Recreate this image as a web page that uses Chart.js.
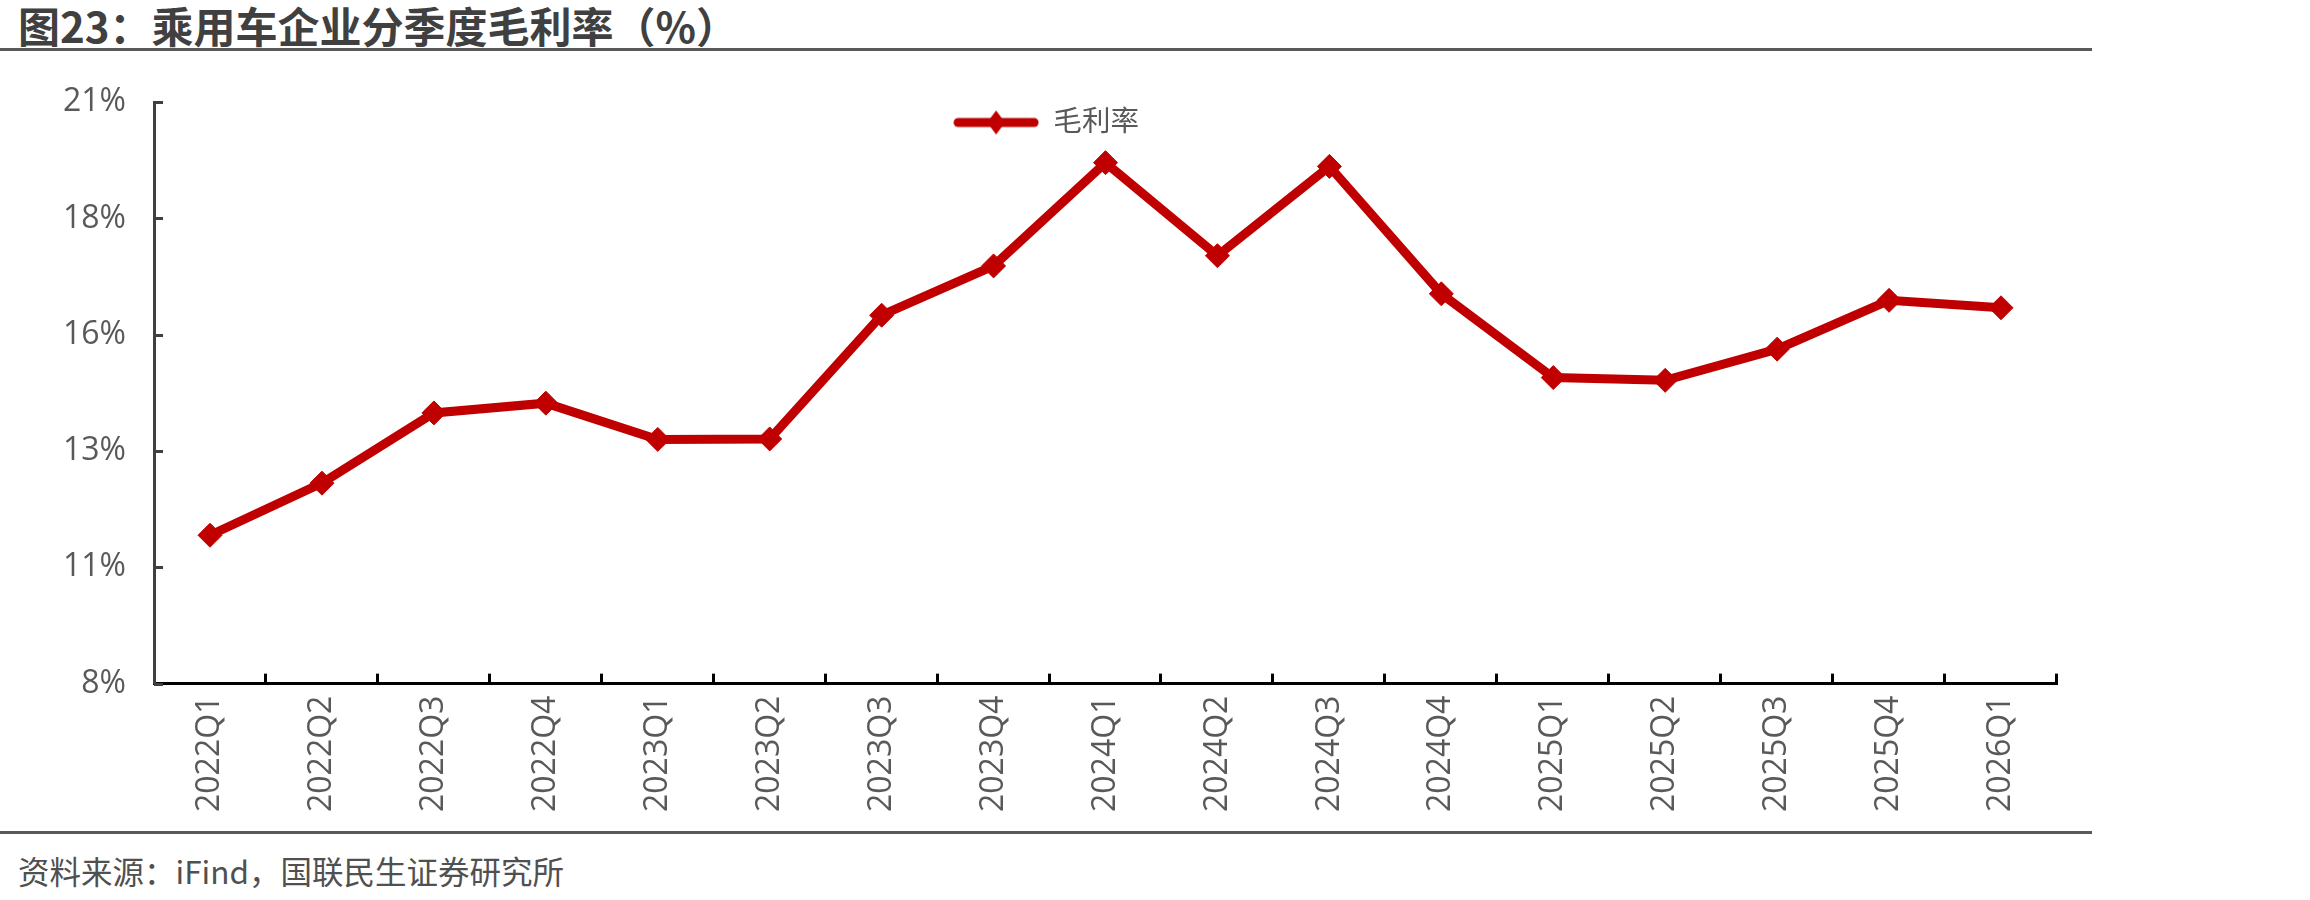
<!DOCTYPE html>
<html>
<head>
<meta charset="utf-8">
<script src="https://cdn.jsdelivr.net/npm/chart.js@4.4.1/dist/chart.umd.min.js"></script>
<style>
  body { margin: 0; background: #fff; }
  #page { position: relative; width: 2310px; height: 900px; overflow: hidden; }
  #title { position: absolute; left: 18px; top: 1px; font: bold 42px "Noto Sans CJK SC", sans-serif; line-height: 48px; color: #404040; white-space: nowrap; }
  .rule { position: absolute; left: 0; width: 2092px; height: 3px; background: #595959; }
  #chartBox { position: absolute; left: 0; top: 55px; width: 2106px; height: 780px; }
  #source { position: absolute; left: 18px; top: 852px; font: 31.5px "Noto Sans CJK SC", sans-serif; line-height: 36px; color: #505050; white-space: nowrap; }
</style>
</head>
<body>
<div id="page">
  <div id="title">图23：乘用车企业分季度毛利率（%）</div>
  <div class="rule" style="top:48px"></div>
  <div id="chartBox"><canvas id="marginChart"></canvas></div>
  <div class="rule" style="top:831px"></div>
  <div id="source">资料来源：iFind，国联民生证券研究所</div>
</div>
<script>
// quarters on the x axis
const quarters = ['2022Q1', '2022Q2', '2022Q3', '2022Q4', '2023Q1', '2023Q2', '2023Q3', '2023Q4',
  '2024Q1', '2024Q2', '2024Q3', '2024Q4', '2025Q1', '2025Q2', '2025Q3', '2025Q4', '2026Q1'];
// gross margin, %
const grossMargin = [11.19, 12.31, 13.82, 14.03, 13.25, 13.26, 15.92, 16.98,
  19.20, 17.20, 19.12, 16.38, 14.58, 14.52, 15.19, 16.24, 16.08];
// y axis ticks and the labels shown for them
const yTickValues = [8, 10.5, 13, 15.5, 18, 20.5];
const yTickLabels = ['8%', '11%', '13%', '16%', '18%', '21%'];

const red = '#C00000';
const labelFont = '"Open Sans", "Noto Sans CJK SC", sans-serif';

// legend symbol: short thick line with a diamond on it
function legendSymbol() {
  const c = document.createElement('canvas');
  c.width = 86; c.height = 28;
  const g = c.getContext('2d');
  g.strokeStyle = red;
  g.lineWidth = 9;
  g.lineCap = 'round';
  g.beginPath(); g.moveTo(5, 14); g.lineTo(81, 14); g.stroke();
  g.fillStyle = red;
  g.beginPath(); g.moveTo(43, 2); g.lineTo(52, 14); g.lineTo(43, 26); g.lineTo(34, 14); g.closePath(); g.fill();
  return c;
}

// legend sits inside the plot: it takes no room in the layout,
// but keeps a real box afterwards so it is not clipped away
const legendOverlay = {
  id: 'legendOverlay',
  beforeInit(chart) {
    const fit = chart.legend.fit;
    chart.legend.fit = function () { fit.call(this); this.height = 0; };
  },
  afterUpdate(chart) {
    const l = chart.legend;
    l.height = 80;
    l.bottom = l.top + 80;
  }
};

// tick marks drawn inward, like the original
const innerTicks = {
  id: 'innerTicks',
  afterDraw(chart) {
    const ctx = chart.ctx;
    const y = chart.scales.y;
    const a = chart.chartArea;
    ctx.save();
    ctx.lineWidth = 3;
    ctx.strokeStyle = '#404040';
    y.ticks.forEach(t => {
      const py = Math.round(y.getPixelForValue(t.value)) + 0.5;
      ctx.beginPath(); ctx.moveTo(a.left, py); ctx.lineTo(a.left + 9, py); ctx.stroke();
    });
    ctx.strokeStyle = '#000';
    const n = quarters.length;
    for (let i = 1; i <= n; i++) {
      const px = Math.round(a.left + (a.right - a.left) * i / n) - 0.5;
      ctx.beginPath(); ctx.moveTo(px, a.bottom); ctx.lineTo(px, a.bottom - 10); ctx.stroke();
    }
    ctx.restore();
  }
};

new Chart(document.getElementById('marginChart'), {
  type: 'line',
  data: {
    labels: quarters,
    datasets: [{
      label: '毛利率',
      data: grossMargin,
      borderColor: red,
      backgroundColor: red,
      borderWidth: 9,
      pointStyle: 'rectRot',
      pointRadius: 12,
      pointBorderWidth: 1,
      pointBackgroundColor: red,
      pointBorderColor: red,
      tension: 0
    }]
  },
  options: {
    responsive: true,
    maintainAspectRatio: false,
    animation: false,
    layout: { padding: { left: 35, right: 49, top: 33, bottom: 11 } },
    plugins: {
      tooltip: { enabled: false },
      legend: {
        position: 'top',
        labels: {
          usePointStyle: true,
          pointStyleWidth: 86,
          padding: 6,
          color: '#595959',
          font: { family: labelFont, size: 28.5 },
          generateLabels: () => [{ text: '毛利率', pointStyle: legendSymbol(), fontColor: '#595959', lineWidth: 0, datasetIndex: 0 }]
        }
      }
    },
    scales: {
      x: {
        offset: true,
        grid: { display: false, drawTicks: false },
        border: { display: true, color: '#000', width: 3 },
        ticks: {
          minRotation: 90, maxRotation: 90, autoSkip: false, padding: 12,
          color: '#595959', font: { family: labelFont, size: 32 }
        }
      },
      y: {
        min: 8, max: 20.5,
        afterBuildTicks: s => { s.ticks = yTickValues.map(v => ({ value: v })); },
        grid: { display: false, drawTicks: false },
        border: { display: true, color: '#404040', width: 3 },
        ticks: {
          padding: 28, color: '#595959', font: { family: labelFont, size: 32 },
          callback: (v, i) => yTickLabels[i]
        }
      }
    }
  },
  plugins: [legendOverlay, innerTicks]
});
</script>
</body>
</html>
